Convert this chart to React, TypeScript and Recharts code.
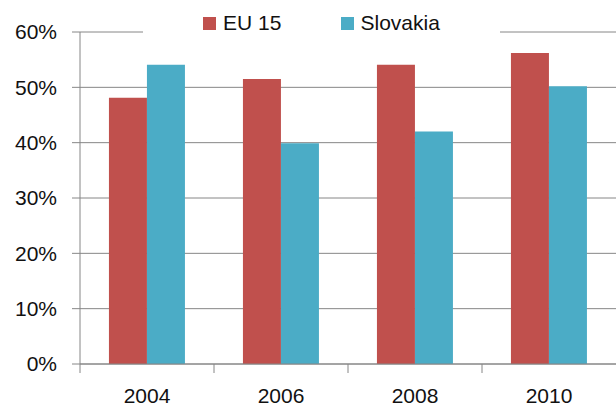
import React from 'react';
import { BarChart, Bar, XAxis, YAxis, CartesianGrid } from 'recharts';

const years = ['2004', '2006', '2008', '2010'];
const eu15 = [48.1, 51.5, 54.1, 56.2];
const slovakia = [54.1, 39.9, 42.0, 50.2];
const yTicks = [0, 10, 20, 30, 40, 50, 60];

const data = years.map((y, i) => ({ year: y, eu: eu15[i], sk: slovakia[i] }));

const RED = '#C0504D';
const BLUE = '#4BACC6';
const GRID = '#868686';
const FONT = '"Liberation Sans", Arial, sans-serif';

// category label plus a tick mark at the left edge of each band
const XTick = (props: any) => {
    const { x, y, payload } = props;
    const half = 67;
    return (
        <g>
            <line x1={x - half} y1={y - 8} x2={x - half} y2={y + 1} stroke={GRID} />
            <text x={x} y={y + 31} textAnchor="middle" fontSize={21} fontFamily={FONT} fill="#111">
                {payload.value}
            </text>
        </g>
    );
};

const LegendBox = () => (
    <div style={{ position: 'absolute', left: 143, top: 4, width: 357, height: 38, display: 'flex', justifyContent: 'center', alignItems: 'center', background: '#fff', fontFamily: FONT, fontSize: 21, color: '#111' }}>
        <span style={{ width: 13, height: 13, background: RED, display: 'inline-block', marginRight: 7 }} />
        <span style={{ marginRight: 60 }}>EU 15</span>
        <span style={{ width: 13, height: 13, background: BLUE, display: 'inline-block', marginRight: 6 }} />
        <span>Slovakia</span>
    </div>
);

export default function App() {
    return (
        <div style={{ position: 'absolute', left: 0, top: 0, width: 616, height: 417, background: '#fff' }}>
            <BarChart
                width={616}
                height={417}
                data={data}
                margin={{ top: 32, right: 0, left: 0, bottom: 0 }}
                barCategoryGap="21.6%"
                barGap={0}
            >
                <CartesianGrid vertical={false} stroke={GRID} />
                <XAxis
                    dataKey="year"
                    height={53}
                    axisLine={{ stroke: GRID }}
                    tickLine={false}
                    tick={<XTick />}
                    interval={0}
                />
                <YAxis
                    width={80}
                    domain={[0, 60]}
                    ticks={yTicks}
                    tickFormatter={(v: number) => `${v}%`}
                    axisLine={{ stroke: GRID }}
                    tickLine={{ stroke: GRID }}
                    tickSize={8}
                    tickMargin={15}
                    tick={{ fontSize: 21, fontFamily: FONT, fill: '#111' }}
                />
                <Bar dataKey="eu" name="EU 15" fill={RED} isAnimationActive={false} />
                <Bar dataKey="sk" name="Slovakia" fill={BLUE} isAnimationActive={false} />
            </BarChart>
            <LegendBox />
        </div>
    );
}
